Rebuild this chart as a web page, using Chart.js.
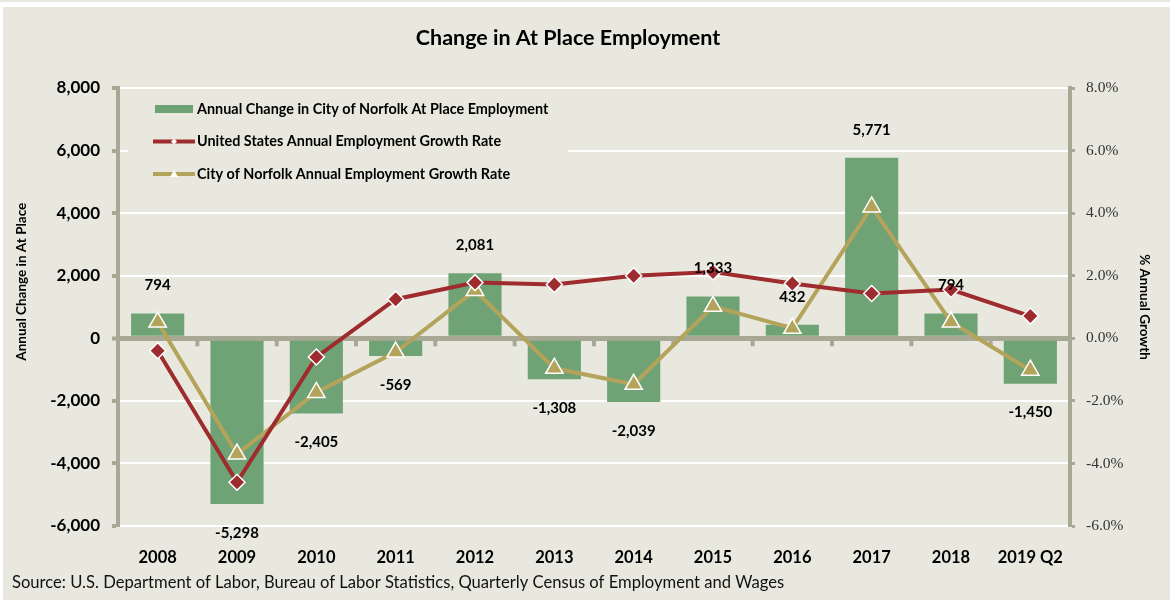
<!doctype html>
<html>
<head>
<meta charset="utf-8">
<title>Change in At Place Employment</title>
<script src="https://cdn.jsdelivr.net/npm/chart.js"></script>
<style>
html,body{margin:0;padding:0;background:#e9e8de}
#wrap{width:1170px;height:600px}
</style>
</head>
<body>
<div id="wrap"><canvas id="chart" width="1170" height="600"></canvas></div>
<script>
// data
const years = ['2008', '2009', '2010', '2011', '2012', '2013', '2014', '2015', '2016', '2017', '2018', '2019 Q2'];
const norfolkChange = [794, -5298, -2405, -569, 2081, -1308, -2039, 1333, 432, 5771, 794, -1450];
const usGrowth = [-0.4, -4.6, -0.6, 1.25, 1.78, 1.72, 2.0, 2.12, 1.75, 1.43, 1.56, 0.71];
const norfolkGrowth = [0.52, -3.7, -1.73, -0.44, 1.53, -0.96, -1.47, 1.02, 0.32, 4.2, 0.52, -1.02];
const seriesNames = [
  'Annual Change in City of Norfolk At Place Employment',
  'United States Annual Employment Growth Rate',
  'City of Norfolk Annual Employment Growth Rate'
];
const chartTitle = 'Change in At Place Employment';
const sourceNote = 'Source: U.S. Department of Labor, Bureau of Labor Statistics, Quarterly Census of Employment and Wages';

const BG = '#e9e8de';
const AXIS = '#a8a994';
const GREEN = '#6fa376';
const RED = '#9e2b2d';
const GOLD = '#b3a35b';
const FONT = 'Lato';

const frame = {
  id: 'frame',
  beforeDraw(chart) {
    const c = chart.ctx;
    c.save();
    c.fillStyle = BG;
    c.fillRect(0, 0, chart.width, chart.height);
    c.fillStyle = '#ffffff';
    c.fillRect(0, 2, chart.width, 5);
    c.fillRect(0, 2, 3, chart.height);
    c.restore();
  },
  afterDraw(chart) {
    const c = chart.ctx;
    c.save();
    c.fillStyle = '#000';
    c.textBaseline = 'middle';
    c.textAlign = 'center';
    c.font = 'bold 21.5px ' + FONT;
    c.fillText(chartTitle, 568, 38);
    c.textAlign = 'left';
    c.fillStyle = '#111';
    c.font = '16.6px ' + FONT;
    c.fillText(sourceNote, 12, 583);
    c.restore();
  }
};

// small category marks under the zero line + legend box inside the plot
const extras = {
  id: 'extras',
  beforeDatasetsDraw(chart) {
    const c = chart.ctx, a = chart.chartArea;
    const xs = chart.scales.x, y0 = chart.scales.y.getPixelForValue(0);
    const slot = (a.right - a.left) / years.length;
    c.save();
    c.fillStyle = AXIS;
    for (let i = 1; i < years.length; i++) {
      const bx = xs.getPixelForValue(i) - slot / 2;
      c.fillRect(bx - 2, y0 + 2, 4, 6);
    }

    // legend
    c.fillStyle = BG;
    c.fillRect(a.left + 10, a.top + 7, 440, 95);
    const sx = a.left + 35;
    c.font = 'bold 14.4px ' + FONT;
    c.textBaseline = 'middle';
    chart.data.datasets.forEach((ds, i) => {
      const y = a.top + 21 + i * 32.5;
      if (ds.type === 'bar') {
        c.fillStyle = ds.backgroundColor;
        c.fillRect(sx + 2, y - 4, 38, 8);
      } else {
        c.strokeStyle = ds.borderColor;
        c.lineWidth = 4;
        c.beginPath();
        c.moveTo(sx, y);
        c.lineTo(sx + 42, y);
        c.stroke();
        const mx = sx + 21;
        c.fillStyle = '#ffffff';
        c.beginPath();
        if (ds.pointStyle === 'rectRot') {
          c.moveTo(mx, y - 3); c.lineTo(mx + 3, y); c.lineTo(mx, y + 3); c.lineTo(mx - 3, y);
        } else {
          c.moveTo(mx, y - 4); c.lineTo(mx + 4, y + 3); c.lineTo(mx - 4, y + 3);
        }
        c.closePath();
        c.fill();
      }
      c.fillStyle = '#000';
      c.fillText(ds.label, sx + 44, y);
    });
    c.restore();
  },
  afterDatasetsDraw(chart) {
    const c = chart.ctx;
    const meta = chart.getDatasetMeta(0);
    c.save();
    c.fillStyle = '#000';
    c.font = 'bold 15px ' + FONT;
    c.textAlign = 'center';
    c.textBaseline = 'middle';
    meta.data.forEach((bar, i) => {
      const v = norfolkChange[i];
      const y = bar.y + (v >= 0 ? -28 : 29);
      c.fillText(v.toLocaleString('en-US'), bar.x, y);
    });
    c.restore();
  }
};

new Chart(document.getElementById('chart'), {
  data: {
    labels: years,
    datasets: [
      {
        type: 'bar',
        label: seriesNames[0],
        data: norfolkChange,
        backgroundColor: GREEN,
        yAxisID: 'y',
        barPercentage: 0.67,
        categoryPercentage: 1,
        order: 3
      },
      {
        type: 'line',
        label: seriesNames[1],
        data: usGrowth,
        yAxisID: 'y1',
        borderColor: RED,
        borderWidth: 4,
        pointStyle: 'rectRot',
        pointRadius: 8,
        pointBackgroundColor: RED,
        pointBorderColor: '#ffffff',
        pointBorderWidth: 1.5,
        tension: 0,
        order: 1
      },
      {
        type: 'line',
        label: seriesNames[2],
        data: norfolkGrowth,
        yAxisID: 'y1',
        borderColor: GOLD,
        borderWidth: 4,
        pointStyle: 'triangle',
        pointRadius: 10,
        pointBackgroundColor: GOLD,
        pointBorderColor: '#ffffff',
        pointBorderWidth: 1.5,
        tension: 0,
        order: 2
      }
    ]
  },
  options: {
    responsive: false,
    animation: false,
    devicePixelRatio: 1,
    layout: { padding: { left: 0, right: 0, top: 88, bottom: 34 } },
    plugins: {
      legend: { display: false },
      tooltip: { enabled: false },
      title: { display: false }
    },
    scales: {
      x: {
        grid: { display: false },
        border: { display: false },
        ticks: { color: '#000', font: { family: FONT, size: 16.5, weight: 'bold' }, padding: 14, maxRotation: 0 },
        afterFit(s) { s.height = 40; }
      },
      y: {
        position: 'left',
        min: -6000,
        max: 8000,
        ticks: {
          stepSize: 2000,
          color: '#000',
          padding: 12,
          font: { family: FONT, size: 17, weight: 'bold' },
          callback: v => v.toLocaleString('en-US')
        },
        grid: {
          color: ctx => ctx.tick && ctx.tick.value === 0 ? AXIS : '#ffffff',
          lineWidth: ctx => ctx.tick && ctx.tick.value === 0 ? 5 : 2,
          drawTicks: true,
          tickLength: 6,
          tickColor: AXIS,
          tickWidth: 4
        },
        border: { color: AXIS, width: 4 },
        title: {
          display: true,
          // leading spaces push the label a little up the axis as in the original
          text: '\u2003\u2003\u2003\u2003\u2003Annual Change in At Place',
          color: '#000',
          font: { family: FONT, size: 13.5, weight: 'bold' },
          padding: { top: 14, bottom: 0 }
        },
        afterFit(s) { s.width = 118; }
      },
      y1: {
        position: 'right',
        min: -6,
        max: 8,
        ticks: {
          stepSize: 2,
          color: '#333',
          padding: 11,
          font: { family: 'Liberation Serif', size: 15.5 },
          callback: v => v.toFixed(1) + '%'
        },
        grid: {
          drawOnChartArea: false,
          color: AXIS,
          drawTicks: true,
          tickLength: 5,
          tickColor: AXIS,
          tickWidth: 3
        },
        border: { color: AXIS, width: 4 },
        title: {
          display: true,
          text: '% Annual Growth',
          color: '#000',
          font: { family: FONT, size: 13.5, weight: 'bold' },
          padding: { top: 18, bottom: 0 }
        },
        afterFit(s) { s.width = 100; }
      }
    }
  },
  plugins: [frame, extras]
});
</script>
</body>
</html>
